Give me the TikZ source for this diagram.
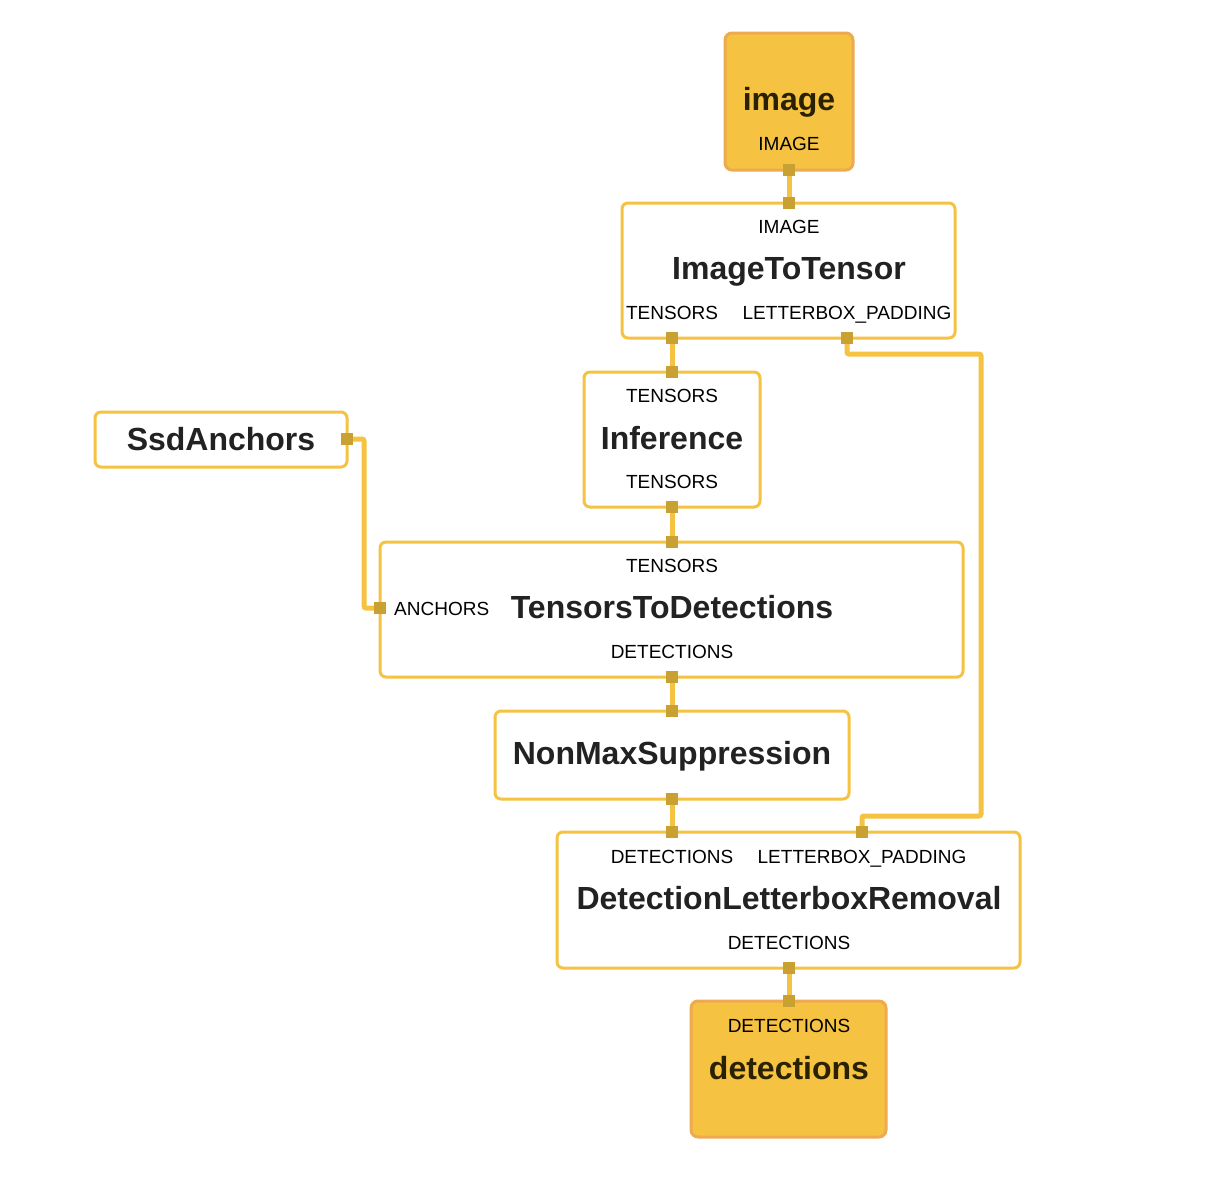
\documentclass[tikz,border=0pt]{standalone}
\usepackage{fontspec}
\setmainfont{Liberation Sans}
\usetikzlibrary{backgrounds}
\definecolor{boxc}{HTML}{F5C242}
\definecolor{ioborder}{HTML}{EDAA4F}
\definecolor{portc}{HTML}{C9A032}
\definecolor{txt}{HTML}{222222}
\definecolor{iotxt}{HTML}{2A2100}
\pgfdeclarelayer{edges}
\pgfsetlayers{background,edges,main}
\tikzset{
  box/.style={draw=boxc, line width=3pt, rounded corners=6pt, fill=white, inner sep=0pt},
  iobox/.style={draw=ioborder, line width=3pt, rounded corners=7pt, fill=boxc, inner sep=0pt},
  port/.style={fill=portc, minimum size=12pt, inner sep=0pt, draw=none},
  edge/.style={draw=boxc, line width=5pt, rounded corners=2pt},
  title/.style={anchor=base, font=\fontsize{32}{36}\selectfont\bfseries, text=txt, inner sep=0pt},
  iotitle/.style={anchor=base, font=\fontsize{32}{36}\selectfont\bfseries, text=iotxt, inner sep=0pt},
  lbl/.style={anchor=base, font=\fontsize{19}{22}\selectfont, text=black, inner sep=0pt}
}
\begin{document}
\begin{tikzpicture}[x=1pt,y=-1pt]
\begin{pgfonlayer}{background}
\fill[white] (0,0) rectangle (1219,1197);
\end{pgfonlayer}
\useasboundingbox (0,0) rectangle (1219,1197);

% boxes
\node[iobox, minimum width=128pt, minimum height=137pt] (image) at (789,101.5) {};
\node[box, minimum width=333pt, minimum height=135pt] (itt) at (788.5,270.5) {};
\node[box, minimum width=176pt, minimum height=135pt] (inf) at (672,439.5) {};
\node[box, minimum width=252pt, minimum height=55pt] (ssd) at (221,439.5) {};
\node[box, minimum width=583pt, minimum height=135pt] (ttd) at (671.5,609.5) {};
\node[box, minimum width=354pt, minimum height=88pt] (nms) at (672,755) {};
\node[box, minimum width=463pt, minimum height=136pt] (dlr) at (788.5,900) {};
\node[iobox, minimum width=195pt, minimum height=136pt] (det) at (788.5,1069) {};

% texts
\node[iotitle] (t1) at (789,110) {image};
\node[lbl] (l1) at (789,150) {IMAGE};

\node[lbl] (l2) at (789,233) {IMAGE};
\node[title] (t2) at (789,279) {ImageToTensor};
\node[lbl] (l3) at (672,319) {TENSORS};
\node[lbl] (l4) at (847,319) {LETTERBOX\_PADDING};

\node[lbl] (l5) at (672,402) {TENSORS};
\node[title] (t3) at (672,449) {Inference};
\node[lbl] (l6) at (672,488) {TENSORS};

\node[title] (t4) at (221,450) {SsdAnchors};

\node[lbl] (l7) at (672,572) {TENSORS};
\node[title] (t5) at (672,618) {TensorsToDetections};
\node[lbl, anchor=base west] (l8) at (394,615) {ANCHORS};
\node[lbl] (l9) at (672,658) {DETECTIONS};

\node[title] (t6) at (672,764) {NonMaxSuppression};

\node[lbl] (l10) at (672,863) {DETECTIONS};
\node[lbl] (l11) at (862,863) {LETTERBOX\_PADDING};
\node[title] (t7) at (789,909) {DetectionLetterboxRemoval};
\node[lbl] (l12) at (789,949) {DETECTIONS};

\node[lbl] (l13) at (789,1032) {DETECTIONS};
\node[iotitle] (t8) at (789,1079) {detections};

% ports
\node[port] (pImgOut) at (789,170) {};
\node[port] (pIttIn) at (789,203) {};
\node[port] (pIttT) at (672,338) {};
\node[port] (pIttL) at (847,338) {};
\node[port] (pInfIn) at (672,372) {};
\node[port] (pInfOut) at (672,507) {};
\node[port] (pSsd) at (347,439) {};
\node[port] (pTtdIn) at (672,542) {};
\node[port] (pTtdA) at (380,608) {};
\node[port] (pTtdOut) at (672,677) {};
\node[port] (pNmsIn) at (672,711) {};
\node[port] (pNmsOut) at (672,799) {};
\node[port] (pDlrD) at (672,832) {};
\node[port] (pDlrL) at (862,832) {};
\node[port] (pDlrOut) at (789,968) {};
\node[port] (pDetIn) at (789,1001) {};

% edges
\begin{pgfonlayer}{edges}
\draw[edge] (pImgOut.center) -- (pIttIn.center);
\draw[edge] (pIttT.center) -- (pInfIn.center);
\draw[edge] (pInfOut.center) -- (pTtdIn.center);
\draw[edge] (pTtdOut.center) -- (pNmsIn.center);
\draw[edge] (pNmsOut.center) -- (pDlrD.center);
\draw[edge] (pDlrOut.center) -- (pDetIn.center);
\draw[edge] (pIttL.center) -- ++(0,16) -| (981,816) -| (pDlrL.center);
\draw[edge] (pSsd.center) -- ++(17,0) |- (pTtdA.center);
\end{pgfonlayer}
\end{tikzpicture}
\end{document}
